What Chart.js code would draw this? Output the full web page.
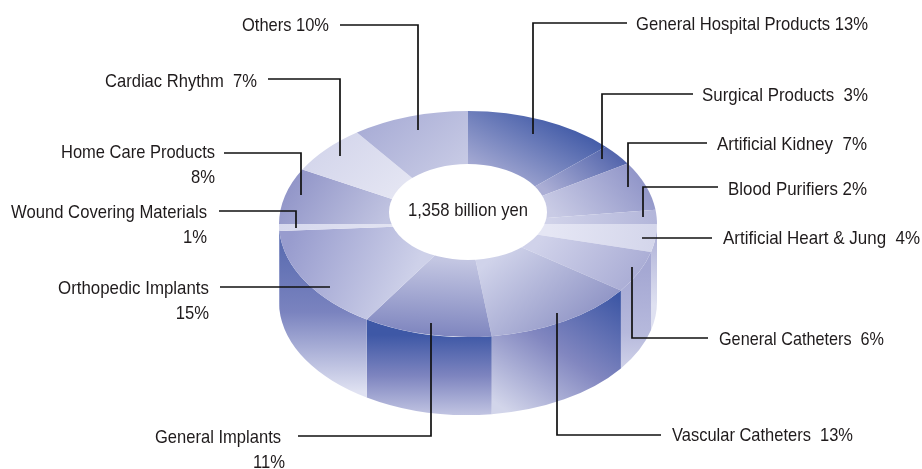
<!DOCTYPE html>
<html>
<head>
<meta charset="utf-8">
<title>Medical device market</title>
<script src="https://cdn.jsdelivr.net/npm/chart.js@4"></script>
<style>
    html, body { margin: 0; padding: 0; background: #fff; }
    canvas { display: block; }
</style>
</head>
<body>
<canvas id="marketChart" width="922" height="469"></canvas>
<script>
const categories = ['General Hospital Products', 'Surgical Products', 'Artificial Kidney', 'Blood Purifiers',
    'Artificial Heart & Jung', 'General Catheters', 'Vascular Catheters', 'General Implants',
    'Orthopedic Implants', 'Wound Covering Materials', 'Home Care Products', 'Cardiac Rhythm', 'Others'];
const shares = [13, 3, 7, 2, 4, 6, 13, 11, 15, 1, 8, 7, 10];
const totalLabel = '1,358 billion yen';

// pie is squashed into an ellipse, the wall hangs below it
const squash = 0.598;
const wallDepth = 78;
const centerY = 224;
const textNarrow = 0.875;

// top face shades: x0, y0, x1, y1 in page pixels, then colour stops
const faceShades = [
    [500, 190, 590, 130, '#aeb1d7', '#3d57a5'],
    [545, 190, 620, 160, '#abaed5', '#5567ad'],
    [550, 210, 650, 180, '#c9cbe5', '#8e93c7'],
    [550, 220, 655, 215, '#d0d2e9', '#b3b6da'],
    [550, 230, 655, 235, '#e5e6f4', '#d4d6eb'],
    [540, 240, 650, 270, '#d0d2ea', '#a8abd4'],
    [490, 260, 610, 310, '#d0d3ea', '#8d92c4'],
    [440, 260, 430, 337, '#c3c6e2', '#7d84be'],
    [290, 240, 420, 260, '#989cce', '#ced1e9'],
    [280, 228, 390, 222, '#d6d8ed', '#e2e3f2'],
    [285, 190, 390, 215, '#9195c8', '#c1c4e1'],
    [310, 150, 410, 190, '#d3d5eb', '#e5e6f3'],
    [370, 120, 465, 160, '#a9add6', '#c6c9e4']
];

// wall shades, same layout; the last entries only show as a sliver
const wallShades = {
    4: [0, 224, 0, 305, ['#a8abd4', '#dfe1f1']],
    5: [0, 270, 0, 395, ['#a5a8d3', '#b6b9dc', '#e4e5f3']],
    6: [610, 290, 520, 420, ['#3d57a5', '#8287c0', '#d2d5ea']],
    7: [0, 335, 0, 416, ['#3e58a6', '#7d84bf', '#c3c6e3']],
    8: [0, 232, 0, 392, ['#5568ae', '#7a83bf', '#e0e2f2']],
    9: [0, 225, 0, 300, ['#5568ae', '#7a83bf']]
};

// callouts: right edge and width of the first text line, then the leader polyline
const callouts = [
    { gap: ' ', x: 868, w: 232, y: 25, line: [[627, 23], [533, 23], [533, 134]] },
    { gap: '  ', x: 868, w: 166, y: 96, line: [[693, 94], [602, 94], [602, 159]] },
    { gap: '  ', x: 867, w: 150, y: 145, line: [[707, 143], [628, 143], [628, 187]] },
    { gap: ' ', x: 867, w: 139, y: 190, line: [[718, 187], [643, 187], [643, 217]] },
    { gap: '  ', x: 920, w: 197, y: 239, line: [[712, 238], [642, 238]] },
    { gap: '  ', x: 884, w: 165, y: 340, line: [[708, 338], [632, 338], [632, 267]] },
    { gap: '  ', x: 853, w: 181, y: 436, line: [[661, 435], [557, 435], [557, 313]] },
    { split: true, x: 281, w: 126, y: 438, x2: 285, line: [[298, 436], [431, 436], [431, 323]] },
    { split: true, x: 209, w: 151, y: 289, x2: 209, line: [[220, 287], [330, 287]] },
    { split: true, x: 207, w: 196, y: 213, x2: 207, line: [[219, 211], [296, 211], [296, 228]] },
    { split: true, x: 215, w: 154, y: 153, x2: 215, line: [[224, 153], [301, 153], [301, 195]] },
    { gap: '  ', x: 257, w: 152, y: 82, line: [[268, 79], [340, 79], [340, 156]] },
    { gap: ' ', x: 329, w: 87, y: 26, line: [[340, 25], [418, 25], [418, 130]] }
];

const canvas = document.getElementById('marketChart');
const ctx2d = canvas.getContext('2d');

function addStops(grad, colors) {
    colors.forEach(function (c, i) {
        grad.addColorStop(i / (colors.length - 1), c);
    });
    return grad;
}

// the arcs are filled under the squash transform, so undo it for the gradient ends
const faceGradients = faceShades.map(function (s) {
    const g = ctx2d.createLinearGradient(s[0], centerY + (s[1] - centerY) / squash,
        s[2], centerY + (s[3] - centerY) / squash);
    return addStops(g, [s[4], s[5]]);
});

// no condensed face is installed, so the regular one gets narrowed
function narrowText(ctx, text, x, y, width) {
    const factor = width ? width / ctx.measureText(text).width : textNarrow;
    ctx.save();
    ctx.translate(x, y);
    ctx.scale(factor, 1);
    ctx.fillText(text, 0, 0);
    ctx.restore();
}

const squashPlugin = {
    id: 'squash',
    beforeDatasetsDraw(chart) {
        const ctx = chart.ctx;
        const arcs = chart.getDatasetMeta(0).data;
        // wall segments, only the front half of the ring
        arcs.forEach(function (arc, i) {
            const shade = wallShades[i];
            if (!shade) return;
            const a0 = Math.max(arc.startAngle, 0);
            const a1 = Math.min(arc.endAngle, Math.PI);
            if (a1 <= a0) return;
            const rx = arc.outerRadius;
            const ry = rx * squash;
            const top = arc.y;
            ctx.save();
            ctx.beginPath();
            ctx.ellipse(arc.x, top, rx, ry, 0, a0, a1);
            ctx.ellipse(arc.x, top + wallDepth, rx, ry, 0, a1, a0, true);
            ctx.closePath();
            ctx.fillStyle = addStops(ctx.createLinearGradient(shade[0], shade[1], shade[2], shade[3]), shade[4]);
            ctx.fill();
            ctx.restore();
        });
    },
    beforeDatasetDraw(chart) {
        const ctx = chart.ctx;
        ctx.save();
        ctx.translate(0, centerY);
        ctx.scale(1, squash);
        ctx.translate(0, -centerY);
    },
    afterDatasetDraw(chart) {
        chart.ctx.restore();
    },
    afterDatasetsDraw(chart) {
        const ctx = chart.ctx;
        // hole sits a little behind the pie centre
        ctx.save();
        ctx.fillStyle = '#fff';
        ctx.beginPath();
        ctx.ellipse(468, 212, 79, 48, 0, 0, Math.PI * 2);
        ctx.fill();

        ctx.fillStyle = '#1f1b1c';
        ctx.font = '19px "Liberation Sans", sans-serif';
        ctx.textBaseline = 'middle';
        ctx.textAlign = 'center';
        narrowText(ctx, totalLabel, 468, 211);

        ctx.textAlign = 'right';
        ctx.strokeStyle = '#111';
        ctx.lineWidth = 1.7;
        callouts.forEach(function (c, i) {
            if (c.split) {
                narrowText(ctx, categories[i], c.x, c.y, c.w);
                narrowText(ctx, shares[i] + '%', c.x2, c.y + 25);
            } else {
                narrowText(ctx, categories[i] + c.gap + shares[i] + '%', c.x, c.y, c.w);
            }
            ctx.beginPath();
            c.line.forEach(function (p, j) {
                if (j === 0) ctx.moveTo(p[0], p[1]);
                else ctx.lineTo(p[0], p[1]);
            });
            ctx.stroke();
        });
        ctx.restore();
    }
};

new Chart(canvas, {
    type: 'pie',
    data: {
        labels: categories,
        datasets: [{
            data: shares,
            backgroundColor: faceGradients,
            borderWidth: 0,
            hoverOffset: 0
        }]
    },
    options: {
        responsive: false,
        animation: false,
        radius: 189,
        layout: { padding: { left: 279, right: 265, top: 35, bottom: 56 } },
        plugins: { legend: { display: false }, tooltip: { enabled: false } },
        events: []
    },
    plugins: [squashPlugin]
});
</script>
</body>
</html>
